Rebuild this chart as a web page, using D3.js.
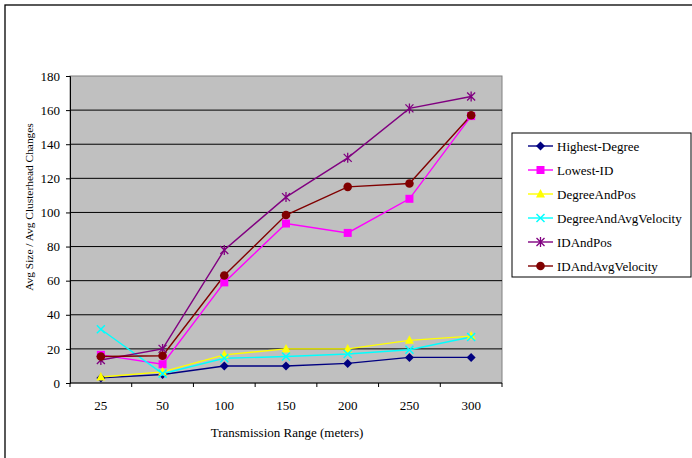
<!DOCTYPE html>
<html lang="en">
<head>
  <meta charset="UTF-8">
  <title>Avg Clusterhead Changes</title>
  <script src="https://cdn.jsdelivr.net/npm/d3@7"></script>
  <style>
    body { margin: 0; background: #fff; }
    text { font-family: "Liberation Serif", "Times New Roman", serif; font-size: 13px; fill: #000; }
  </style>
</head>
<body>
<div id="chart"></div>

<script type="text/javascript">

  // data
  var ranges = ["25", "50", "100", "150", "200", "250", "300"];
  var yTicks = [0, 20, 40, 60, 80, 100, 120, 140, 160, 180];

  var highestDegree = [3, 5, 10, 10, 11.5, 15, 15];
  var lowestId = [16.5, 11, 59, 93.5, 88, 108, 156.5];
  var degreeAndPos = [3.5, 6.5, 16.5, 20, 20, 25, 27.5];
  var degreeAndAvgVelocity = [31.5, 5.5, 14.5, 15.5, 17, 19.5, 27];
  var idAndPos = [13.5, 20, 78, 109, 132, 161, 168];
  var idAndAvgVelocity = [15.5, 16, 63, 98.5, 115, 117, 157];

  var seriesNames = ["Highest-Degree", "Lowest-ID", "DegreeAndPos", "DegreeAndAvgVelocity", "IDAndPos", "IDAndAvgVelocity"];
  var seriesColors = ["#000080", "#FF00FF", "#FFFF00", "#00FFFF", "#800080", "#800000"];
  var seriesMarkers = ["diamond", "square", "triangle", "cross", "star", "circle"];

  var series = [highestDegree, lowestId, degreeAndPos, degreeAndAvgVelocity, idAndPos, idAndAvgVelocity].map(function(vals, i) {
    return { name: seriesNames[i], color: seriesColors[i], marker: seriesMarkers[i], values: vals };
  });

  var W = 692, H = 458;
  var plot = { left: 70, top: 76, right: 502, bottom: 383 };

  var svg = d3.select("#chart").append("svg")
    .attr("width", W)
    .attr("height", H);

  // outer chart border (right/bottom run off the picture)
  svg.append("rect")
    .attr("x", 5).attr("y", 5)
    .attr("width", W + 10).attr("height", H + 10)
    .attr("fill", "#fff")
    .attr("stroke", "#000")
    .attr("stroke-width", 1.3);

  var x = d3.scaleBand()
    .domain(ranges)
    .range([plot.left, plot.right]);

  var y = d3.scaleLinear()
    .domain([0, 180])
    .range([plot.bottom, plot.top]);

  // plot area
  svg.append("rect")
    .attr("x", plot.left).attr("y", plot.top)
    .attr("width", plot.right - plot.left)
    .attr("height", plot.bottom - plot.top)
    .attr("fill", "#C0C0C0")
    .attr("stroke", "#808080")
    .attr("stroke-width", 1);

  // gridlines
  svg.selectAll("line.grid")
    .data(yTicks.filter(function(d) { return d > 0 && d < 180; }))
    .enter()
    .append("line")
    .attr("class", "grid")
    .attr("x1", plot.left).attr("x2", plot.right)
    .attr("y1", function(d) { return y(d); })
    .attr("y2", function(d) { return y(d); })
    .attr("stroke", "#000")
    .attr("stroke-width", 1);

  // y axis
  var yAxis = svg.append("g")
    .attr("transform", "translate(" + plot.left + ",0)")
    .call(d3.axisLeft(y).tickValues(yTicks).tickSize(4).tickPadding(6));
  yAxis.select(".domain").attr("stroke", "#000");
  yAxis.selectAll("text").style("font-size", "13px").style("font-family", "Liberation Serif, serif");

  // x axis: ticks sit on band edges
  svg.append("line")
    .attr("x1", plot.left).attr("x2", plot.right)
    .attr("y1", plot.bottom).attr("y2", plot.bottom)
    .attr("stroke", "#000");

  var edges = ranges.map(function(r) { return x(r); }).concat([plot.right]);
  svg.selectAll("line.xtick")
    .data(edges)
    .enter()
    .append("line")
    .attr("class", "xtick")
    .attr("x1", function(d) { return d; })
    .attr("x2", function(d) { return d; })
    .attr("y1", plot.bottom).attr("y2", plot.bottom + 4)
    .attr("stroke", "#000");

  svg.selectAll("text.xlabel")
    .data(ranges)
    .enter()
    .append("text")
    .attr("class", "xlabel")
    .attr("text-anchor", "middle")
    .attr("x", function(d) { return x(d) + x.bandwidth() / 2; })
    .attr("y", 410)
    .text(function(d) { return d; });

  // axis titles
  svg.append("text")
    .attr("text-anchor", "middle")
    .attr("x", 287).attr("y", 437)
    .text("Transmission Range (meters)");

  svg.append("text")
    .attr("text-anchor", "middle")
    .attr("transform", "translate(33,207) rotate(-90)")
    .style("font-size", "11.4px")
    .text("Avg Size / Avg Clusterhead Changes");

  // marker shapes
  function drawMarker(g, type, color) {
    if (type === "diamond") {
      g.append("path").attr("d", "M0,-4.5L4.5,0L0,4.5L-4.5,0Z").attr("fill", color);
    } else if (type === "square") {
      g.append("rect").attr("x", -4).attr("y", -4).attr("width", 8).attr("height", 8).attr("fill", color);
    } else if (type === "triangle") {
      g.append("path").attr("d", "M0,-5L4.5,3.5L-4.5,3.5Z").attr("fill", color);
    } else if (type === "cross") {
      g.append("path").attr("d", "M-4,-4L4,4M-4,4L4,-4").attr("stroke", color).attr("stroke-width", 1.5);
    } else if (type === "star") {
      g.append("path").attr("d", "M-4,-4L4,4M-4,4L4,-4M0,-5L0,5").attr("stroke", color).attr("stroke-width", 1.3);
    } else if (type === "circle") {
      g.append("circle").attr("r", 4.3).attr("fill", color);
    }
  }

  var line = d3.line()
    .x(function(d, i) { return x(ranges[i]) + x.bandwidth() / 2; })
    .y(function(d) { return y(d); });

  series.forEach(function(s) {
    svg.append("path")
      .datum(s.values)
      .attr("d", line)
      .attr("fill", "none")
      .attr("stroke", s.color)
      .attr("stroke-width", 1.4);
  });

  series.forEach(function(s) {
    s.values.forEach(function(v, i) {
      var g = svg.append("g")
        .attr("transform", "translate(" + (x(ranges[i]) + x.bandwidth() / 2) + "," + y(v) + ")");
      drawMarker(g, s.marker, s.color);
    });
  });

  // legend
  svg.append("rect")
    .attr("x", 512).attr("y", 133)
    .attr("width", 179).attr("height", 144)
    .attr("fill", "#fff")
    .attr("stroke", "#000")
    .attr("stroke-width", 1);

  var legend = svg.selectAll("g.legend")
    .data(series)
    .enter()
    .append("g")
    .attr("class", "legend")
    .attr("transform", function(d, i) { return "translate(0," + (146 + i * 24) + ")"; });

  legend.append("line")
    .attr("x1", 528).attr("x2", 553)
    .attr("y1", 0).attr("y2", 0)
    .attr("stroke", function(d) { return d.color; })
    .attr("stroke-width", 1.4);

  legend.each(function(d) {
    var g = d3.select(this).append("g").attr("transform", "translate(540.5,0)");
    drawMarker(g, d.marker, d.color);
  });

  legend.append("text")
    .attr("x", 557).attr("y", 4.5)
    .text(function(d) { return d.name; });

</script>
</body>
</html>
